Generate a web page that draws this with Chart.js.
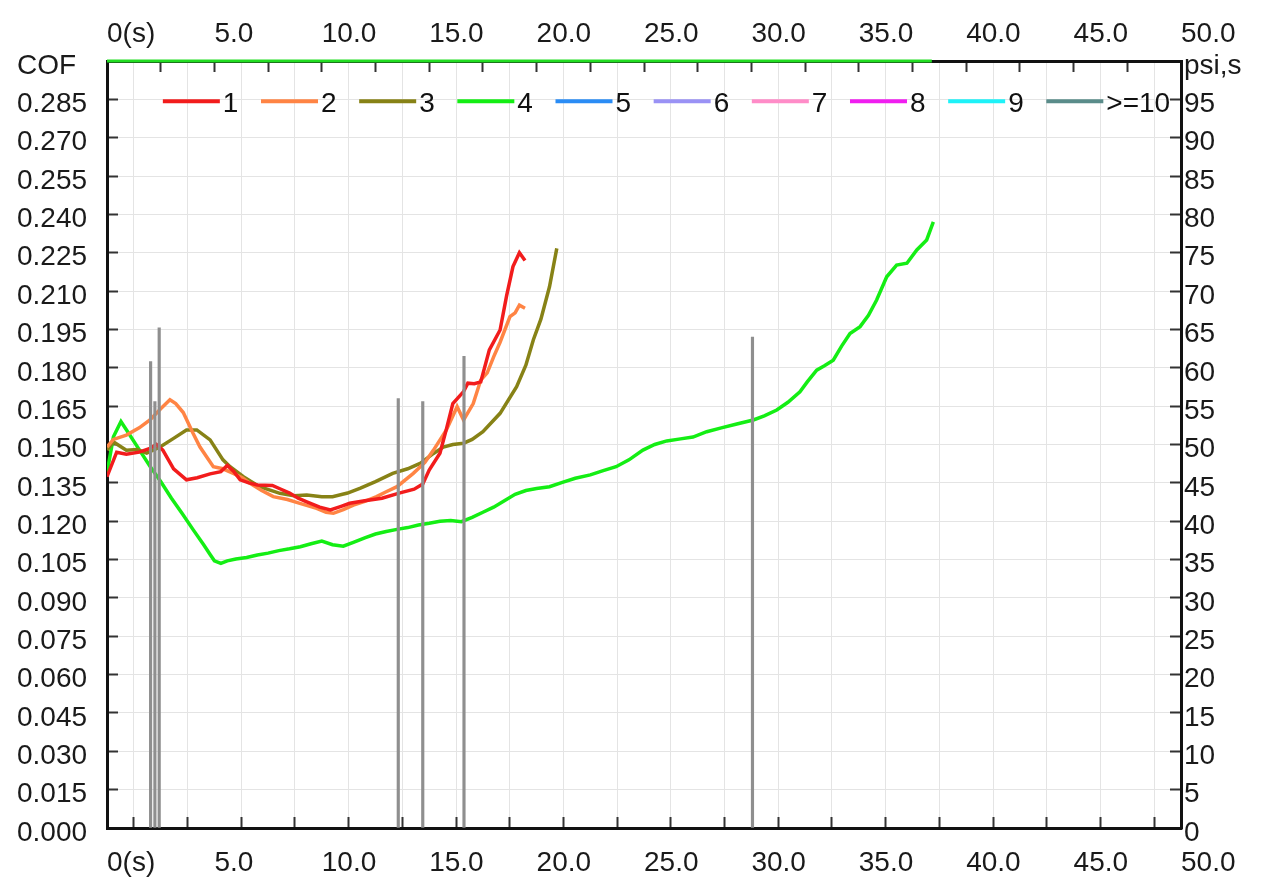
<!DOCTYPE html>
<html>
<head>
<meta charset="utf-8">
<title>COF</title>
<script src="https://cdn.jsdelivr.net/npm/chart.js@4.4.0/dist/chart.umd.min.js"></script>
<style>
  html, body { margin: 0; padding: 0; background: #fff; }
  #marco { position: relative; width: 1269px; height: 886px; }
</style>
</head>
<body>
<div id="marco"><canvas id="grafica" width="1269" height="886"></canvas></div>
<script>
// ensayo 1
const tiempo1 = [0, 0.45, 0.9, 1.5, 2.0, 2.3, 2.6, 3.1, 3.7, 4.2, 4.8, 5.3, 5.6, 5.9, 6.2, 6.6, 7.0, 7.7, 8.1, 8.5, 8.9, 9.3, 9.9, 10.4, 10.9, 11.3, 12.0, 12.8, 13.6, 14.3, 14.7, 15.0, 15.5, 15.8, 16.1, 16.6, 16.8, 17.1, 17.4, 17.8, 18.3, 18.6, 18.9, 19.2, 19.46]
const cof1 = [0.1374, 0.1470, 0.1462, 0.1470, 0.1485, 0.1500, 0.1478, 0.1405, 0.1362, 0.1370, 0.1385, 0.1394, 0.1418, 0.1395, 0.1362, 0.1350, 0.1342, 0.1340, 0.1325, 0.1310, 0.1290, 0.1276, 0.1255, 0.1244, 0.1258, 0.1270, 0.1280, 0.1290, 0.1310, 0.1325, 0.1345, 0.1400, 0.1466, 0.1560, 0.1660, 0.1707, 0.1740, 0.1738, 0.1745, 0.1870, 0.1948, 0.2080, 0.2196, 0.2250, 0.2220]

// ensayo 2
const tiempo2 = [0, 0.3, 0.9, 1.5, 2.0, 2.5, 2.93, 3.2, 3.55, 4.0, 4.33, 4.95, 5.4, 5.88, 6.3, 6.66, 7.2, 7.74, 8.4, 8.98, 9.76, 10.2, 10.54, 11.0, 11.47, 12.0, 12.55, 13.0, 13.5, 14.26, 14.8, 15.2, 15.8, 16.3, 16.6, 17.05, 17.4, 17.7, 18.0, 18.3, 18.76, 19.0, 19.2, 19.46]
const cof2 = [0.1490, 0.1520, 0.1537, 0.1565, 0.1596, 0.1640, 0.1675, 0.1660, 0.1625, 0.1545, 0.1490, 0.1413, 0.1405, 0.1387, 0.1370, 0.1348, 0.1320, 0.1296, 0.1285, 0.1270, 0.1250, 0.1235, 0.1231, 0.1245, 0.1263, 0.1278, 0.1296, 0.1315, 0.1335, 0.1387, 0.1430, 0.1478, 0.1557, 0.1648, 0.1596, 0.1660, 0.1752, 0.1780, 0.1843, 0.1900, 0.2000, 0.2015, 0.2045, 0.2033]

// ensayo 3
const tiempo3 = [0, 0.3, 0.9, 1.4, 1.85, 2.47, 3.1, 3.7, 4.18, 4.8, 5.4, 5.73, 6.35, 7.1, 8.05, 8.7, 9.3, 10.0, 10.5, 11.2, 11.8, 12.5, 13.3, 14.0, 14.6, 15.2, 15.66, 16.1, 16.6, 17.0, 17.5, 18.3, 19.07, 19.5, 19.85, 20.2, 20.6, 20.94]
const cof3 = [0.1478, 0.1510, 0.1478, 0.1480, 0.1466, 0.1490, 0.1524, 0.1557, 0.1557, 0.1518, 0.1440, 0.1413, 0.1374, 0.1335, 0.1309, 0.1300, 0.1302, 0.1296, 0.1296, 0.1310, 0.1329, 0.1355, 0.1387, 0.1405, 0.1427, 0.1465, 0.1490, 0.1500, 0.1505, 0.1520, 0.1550, 0.1622, 0.1726, 0.1810, 0.1910, 0.1990, 0.2117, 0.2267]

// ensayo 4
const tiempo4 = [0, 0.3, 0.65, 1.0, 1.5, 2.0, 2.5, 3.0, 3.5, 4.0, 4.5, 4.8, 5.0, 5.3, 5.6, 6.0, 6.5, 7.0, 7.5, 8.0, 8.5, 9.0, 9.5, 10.0, 10.5, 11.0, 11.5, 12.0, 12.5, 13.0, 13.5, 14.0, 14.5, 15.0, 15.5, 16.0, 16.5, 17.0, 17.5, 18.0, 18.5, 19.0, 19.5, 20.0, 20.6, 21.2, 21.8, 22.5, 23.1, 23.7, 24.3, 24.95, 25.5, 26.06, 26.7, 27.28, 27.92, 28.6, 29.32, 30.09, 30.6, 31.18, 31.7, 32.26, 32.6, 33.04, 33.4, 33.81, 34.2, 34.59, 35.06, 35.45, 35.83, 36.3, 36.76, 37.24, 37.7, 38.16, 38.47]
const cof4 = [0.1390, 0.1530, 0.1590, 0.1545, 0.1480, 0.1415, 0.1355, 0.1290, 0.1230, 0.1168, 0.1108, 0.1070, 0.1045, 0.1035, 0.1045, 0.1052, 0.1058, 0.1068, 0.1075, 0.1085, 0.1092, 0.1100, 0.1112, 0.1122, 0.1108, 0.1102, 0.1118, 0.1135, 0.1150, 0.1160, 0.1168, 0.1175, 0.1185, 0.1192, 0.1200, 0.1203, 0.1198, 0.1215, 0.1235, 0.1255, 0.1280, 0.1305, 0.1320, 0.1328, 0.1335, 0.1352, 0.1368, 0.1381, 0.1398, 0.1413, 0.1440, 0.1478, 0.1500, 0.1514, 0.1522, 0.1529, 0.1550, 0.1565, 0.1580, 0.1596, 0.1612, 0.1635, 0.1665, 0.1706, 0.1745, 0.1791, 0.1808, 0.1830, 0.1885, 0.1934, 0.1961, 0.2005, 0.2065, 0.2156, 0.2202, 0.2209, 0.2261, 0.2300, 0.2371]

// barras de presion (psi,s)
const tiempoBarras = [2.03, 2.23, 2.43, 13.56, 14.70, 16.62, 30.05]
const presionBarras = [60.8, 55.6, 65.2, 56.0, 55.6, 61.5, 64.0]

// avance del ensayo mas largo, marcado sobre el borde superior
const avanceX = [0, 38.4]
const avanceY = [0.30, 0.30]

// leyenda
const etiquetasSerie = ['1', '2', '3', '4', '5', '6', '7', '8', '9', '>=10']
const coloresSerie = ['#f21c1c', '#ff8444', '#878216', '#14ee14', '#2a8cf5', '#9a92f5', '#ff8cc8', '#f01ef0', '#1ef2f8', '#5a8c8a']

const familia = "'Liberation Sans', Arial, sans-serif"
const fuente = { family: familia, size: 28 }
const colorTexto = '#1a1a1a'
const colorRejilla = '#e4e4e4'
const colorMarca = '#333'

function puntos(xs, ys) {
    return xs.map((x, i) => ({ x: x, y: ys[i] }))
}

function etiquetaTiempo(valor) {
    if (valor === 0) return '0(s)'
    if (Math.abs(valor % 5) < 1e-6) return valor.toFixed(1)
    return ''
}

function etiquetaCof(valor) {
    if (valor > 0.2999) return 'COF'
    return valor.toFixed(3)
}

function etiquetaPresion(valor) {
    if (valor > 99.9) return 'psi,s'
    return String(Math.round(valor))
}

function serie(i, xs, ys) {
    return {
        type: 'line',
        label: etiquetasSerie[i],
        data: puntos(xs, ys),
        borderColor: coloresSerie[i],
        borderWidth: 3.5,
        pointRadius: 0,
        tension: 0,
        xAxisID: 'x',
        yAxisID: 'y',
        order: 2
    }
}

// leyenda dentro del area de trazado, sobre la linea de 0.285
const leyendaInterna = {
    id: 'leyendaInterna',
    afterDatasetsDraw(chart) {
        const { ctx, chartArea, scales } = chart
        const y = scales.y.getPixelForValue(0.285) + 2
        const paso = chartArea.width * 0.0914
        const inicio = chartArea.left + chartArea.width * 0.052
        ctx.save()
        ctx.font = `28px ${familia}`
        ctx.textBaseline = 'middle'
        ctx.textAlign = 'left'
        etiquetasSerie.forEach((texto, i) => {
            const x = inicio + i * paso
            ctx.strokeStyle = coloresSerie[i]
            ctx.lineWidth = 4
            ctx.beginPath()
            ctx.moveTo(x, y)
            ctx.lineTo(x + 57, y)
            ctx.stroke()
            ctx.fillStyle = '#111'
            ctx.fillText(texto, x + 60, y + 3)
        })
        ctx.restore()
    }
}

function ejeX(posicion, alto, relleno, rejilla) {
    return {
        type: 'linear',
        position: posicion,
        min: 0,
        max: 50,
        offset: false,
        afterFit: (eje) => { eje.height = alto },
        ticks: {
            stepSize: 2.5,
            autoSkip: false,
            maxRotation: 0,
            minRotation: 0,
            align: 'start',
            padding: relleno,
            color: colorTexto,
            font: fuente,
            callback: etiquetaTiempo
        },
        grid: {
            display: true,
            drawOnChartArea: rejilla,
            color: colorRejilla,
            lineWidth: 1,
            drawTicks: true,
            tickLength: -11,
            tickColor: colorMarca,
            tickWidth: 2
        },
        border: { display: true, color: '#111', width: 3 }
    }
}

const datasets = [
    {
        type: 'bar',
        label: 'presion',
        data: puntos(tiempoBarras, presionBarras),
        backgroundColor: '#8f8f8f',
        barThickness: 2.5,
        grouped: false,
        xAxisID: 'x',
        yAxisID: 'y2',
        order: 0
    },
    {
        type: 'line',
        label: 'avance',
        data: puntos(avanceX, avanceY),
        borderColor: '#22dd22',
        borderWidth: 3,
        pointRadius: 0,
        clip: false,
        xAxisID: 'x',
        yAxisID: 'y',
        order: 1
    },
    serie(0, tiempo1, cof1),
    serie(1, tiempo2, cof2),
    serie(2, tiempo3, cof3),
    serie(3, tiempo4, cof4)
]

const config = {
    type: 'line',
    data: { datasets: datasets },
    options: {
        responsive: false,
        animation: false,
        events: [],
        layout: { padding: { left: 17, right: 0, top: 0, bottom: 0 } },
        plugins: {
            legend: { display: false },
            tooltip: { enabled: false }
        },
        scales: {
            x: ejeX('bottom', 58, 29, true),
            xArriba: ejeX('top', 61, 21, false),
            y: {
                type: 'linear',
                position: 'left',
                min: 0,
                max: 0.3,
                afterFit: (eje) => { eje.width = 90 },
                ticks: {
                    stepSize: 0.015,
                    crossAlign: 'far',
                    labelOffset: 5,
                    color: colorTexto,
                    font: fuente,
                    callback: etiquetaCof
                },
                grid: {
                    color: colorRejilla,
                    lineWidth: 1,
                    drawTicks: true,
                    tickLength: -11,
                    tickColor: colorMarca,
                    tickWidth: 2
                },
                border: { display: true, color: '#111', width: 3 }
            },
            y2: {
                type: 'linear',
                position: 'right',
                min: 0,
                max: 100,
                afterFit: (eje) => { eje.width = 88 },
                ticks: {
                    stepSize: 5,
                    crossAlign: 'near',
                    padding: 14,
                    labelOffset: 5,
                    color: colorTexto,
                    font: fuente,
                    callback: etiquetaPresion
                },
                grid: {
                    drawOnChartArea: false,
                    drawTicks: true,
                    tickLength: -11,
                    tickColor: colorMarca,
                    tickWidth: 2
                },
                border: { display: true, color: '#111', width: 3 }
            }
        }
    },
    plugins: [leyendaInterna]
}

const chartDOM = document.getElementById('grafica')
new Chart(chartDOM, config)
</script>
</body>
</html>
